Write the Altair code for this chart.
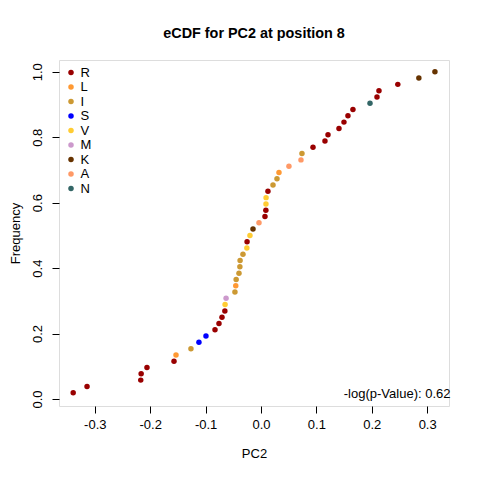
import altair as alt
import pandas as pd

# PC2 values (sorted) and residue at position 8
pc2 = [-0.339, -0.314, -0.2170, -0.2163, -0.2058, -0.157, -0.1534, -0.1264,
       -0.112, -0.0993, -0.083, -0.0758, -0.0704, -0.0652, -0.0648, -0.063,
       -0.047, -0.0455, -0.0448, -0.0397, -0.0381, -0.0377, -0.0325, -0.0255,
       -0.0251, -0.0199, -0.0144, -0.0036, 0.0072, 0.0088, 0.0090, 0.0092,
       0.0126, 0.0217, 0.0289, 0.0325, 0.0505, 0.0722, 0.074, 0.0939,
       0.1155, 0.121, 0.1408, 0.1498, 0.157, 0.166, 0.1968, 0.2094,
       0.213, 0.247, 0.285, 0.314]
residue = ["R", "R", "R", "R", "R", "R", "L", "I",
           "S", "S", "R", "R", "R", "R", "V", "M",
           "I", "L", "I", "I", "I", "I", "I", "V",
           "R", "V", "K", "A", "R", "R", "V", "V",
           "R", "I", "I", "L", "A", "A", "I", "R",
           "R", "R", "R", "R", "R", "R", "N", "R",
           "R", "R", "K", "K"]

legend_order = ["R", "L", "I", "S", "V", "M", "K", "A", "N"]
legend_colors = ["#990000", "#FF9933", "#CC9933", "#0000FF", "#FFCC33",
                 "#CC99CC", "#663300", "#FF9966", "#336666"]
x_ticks = [-0.3, -0.2, -0.1, 0.0, 0.1, 0.2, 0.3]
y_ticks = [0.0, 0.2, 0.4, 0.6, 0.8, 1.0]
annotation = "-log(p-Value): 0.62"

df = pd.DataFrame({"PC2": pc2, "residue": residue})

FONT = "Liberation Sans"
W, H = 390, 346

points = alt.Chart(df).transform_window(
    rank="row_number()", sort=[alt.SortField("PC2", order="ascending")]
).transform_joinaggregate(
    n="count()"
).transform_calculate(
    Frequency="datum.rank / datum.n"
).mark_point(filled=True, size=30, opacity=1, shape="circle").encode(
    x=alt.X("PC2:Q",
            scale=alt.Scale(domain=[-0.3646, 0.3394], nice=False, zero=False),
            axis=alt.Axis(values=x_ticks, title="PC2", domain=False, grid=False,
                          tickSize=7, tickColor="black", labelColor="black",
                          labelFontSize=13, labelFont=FONT, labelPadding=15,
                          labelBaseline="alphabetic",
                          labelExpr="datum.value < 0 ? '-' + format(abs(datum.value), '.1f') : format(datum.value, '.1f')",
                          titleFontSize=13, titleFont=FONT, titleFontWeight="normal",
                          titleColor="black", titleY=51.7, titleBaseline="alphabetic")),
    y=alt.Y("Frequency:Q",
            scale=alt.Scale(domain=[-0.0214, 1.036], nice=False, zero=False),
            axis=alt.Axis(values=y_ticks, title="Frequency", domain=False, grid=False,
                          tickSize=7, tickColor="black", labelColor="black",
                          labelFontSize=13, labelFont=FONT, labelAngle=270,
                          labelAlign="center", labelBaseline="alphabetic",
                          labelPadding=11, format=".1f",
                          titleFontSize=13, titleFont=FONT, titleFontWeight="normal",
                          titleColor="black", titleX=-39.5, titleAngle=270,
                          titleBaseline="alphabetic")),
    color=alt.Color("residue:N",
                    scale=alt.Scale(domain=legend_order, range=legend_colors),
                    legend=alt.Legend(title=None, orient="none", legendX=5.5, legendY=6,
                                      symbolType="circle", symbolSize=30,
                                      labelFontSize=13, labelFont=FONT, labelColor="black",
                                      labelOffset=3, rowPadding=0.5, padding=0,
                                      symbolStrokeWidth=0)),
)

note = alt.Chart(pd.DataFrame({"t": [annotation]})).mark_text(
    align="right", baseline="alphabetic", fontSize=13, font=FONT, color="black"
).encode(x=alt.value(W + 1.5), y=alt.value(H - 8), text="t:N")

chart = alt.layer(points, note).properties(
    width=W, height=H,
    title=alt.TitleParams("eCDF for PC2 at position 8", fontSize=14.4, font=FONT,
                          fontWeight="bold", color="black", anchor="middle",
                          baseline="alphabetic", offset=8),
    autosize=alt.AutoSizeParams(type="none"),
    padding={"left": 51, "top": 52, "right": 20, "bottom": 60},
).configure_view(stroke="black", strokeWidth=1).configure(background="white")

chart.save("out.html", embed_options={"renderer": "svg", "actions": False})
